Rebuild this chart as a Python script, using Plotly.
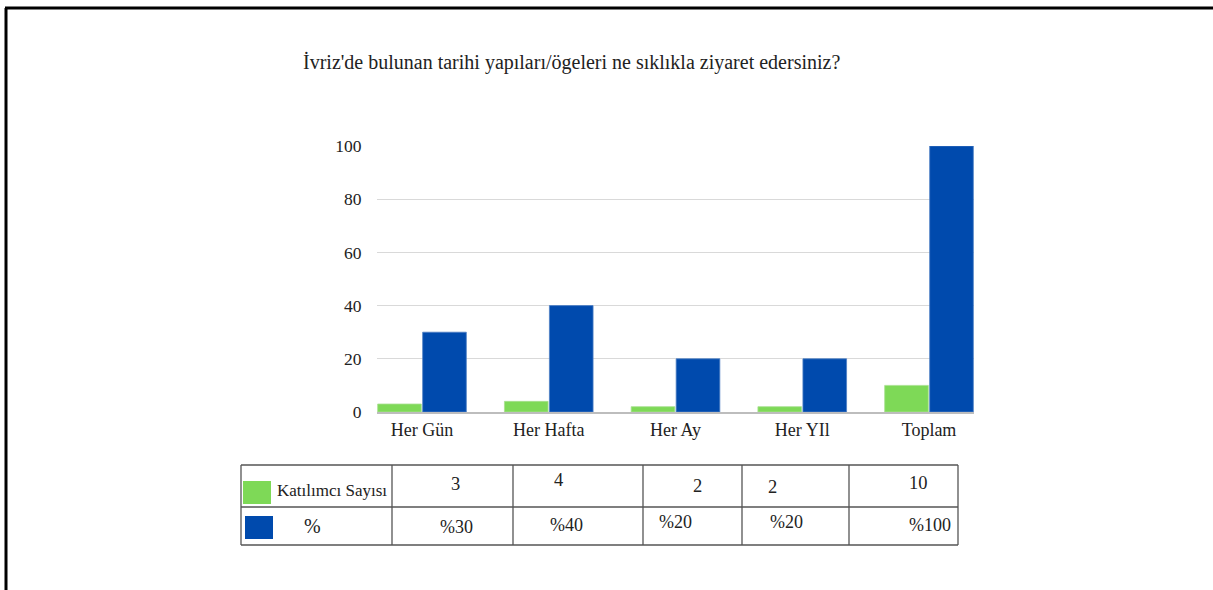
import plotly.graph_objects as go

W, H = 1213, 590

# chart data
categories = ["Her Gün", "Her Hafta", "Her Ay", "Her YIl", "Toplam"]
katilimci = [3, 4, 2, 2, 10]
yuzde = [30, 40, 20, 20, 100]
y_ticks = [0, 20, 40, 60, 80, 100]

# table text
row_names = ["Katılımcı Sayısı", "%"]
table_row1 = ["3", "4", "2", "2", "10"]
table_row2 = ["%30", "%40", "%20", "%20", "%100"]

GREEN = "#7ed957"
BLUE = "#004aad"
FONT = "Liberation Serif, Times New Roman, serif"


def px(p):
    return p / W


def py(p):
    return 1 - p / H


def note(text, x, y, size, anchor="center"):
    fig.add_annotation(text=text, x=px(x), y=py(y), xref="paper", yref="paper",
                       xanchor=anchor, yanchor="middle", showarrow=False,
                       font=dict(size=size))


fig = go.Figure()
fig.add_trace(go.Bar(x=categories, y=katilimci, name=row_names[0],
                     marker=dict(color=GREEN, line=dict(width=0.8, color="#a8e08f"))))
fig.add_trace(go.Bar(x=categories, y=yuzde, name=row_names[1],
                     marker=dict(color=BLUE, line=dict(width=0.8, color="#4d7fc4"))))

fig.update_layout(
    width=W, height=H,
    margin=dict(l=0, r=0, t=0, b=0, autoexpand=False),
    paper_bgcolor="white", plot_bgcolor="white",
    showlegend=False,
    barmode="group", bargap=0.29, bargroupgap=0.03,
    font=dict(family=FONT, size=18, color="#222"),
    xaxis=dict(domain=[px(377), px(974)], range=[-0.355, 4.355], automargin=False,
               showline=True, linecolor="#bdbdbd", linewidth=2,
               ticks="", showgrid=False, tickfont=dict(size=18)),
    yaxis=dict(domain=[py(412), py(146)], range=[0, 100], automargin=False,
               tickvals=y_ticks, showgrid=True, gridcolor="#d9d9d9",
               gridwidth=1, zeroline=False, showline=False,
               ticks="outside", ticklen=11, tickcolor="rgba(0,0,0,0)",
               tickfont=dict(size=17.5)),
)

# title
note("İvriz'de bulunan tarihi yapıları/ögeleri ne sıklıkla ziyaret edersiniz?", 571, 62, 20)

# outer frame (top and left)
fig.add_shape(type="line", xref="paper", yref="paper",
              x0=px(5), x1=1, y0=py(8), y1=py(8), line=dict(color="black", width=3))
fig.add_shape(type="line", xref="paper", yref="paper",
              x0=px(6), x1=px(6), y0=py(8), y1=0, line=dict(color="black", width=3))

# table grid
col_x = [241, 392, 513, 643, 742, 849, 958]
row_y = [465, 507, 545]
for yy in row_y:
    fig.add_shape(type="line", xref="paper", yref="paper",
                  x0=px(col_x[0]), x1=px(col_x[-1]), y0=py(yy), y1=py(yy),
                  line=dict(color="#555", width=1.3))
for xx in col_x:
    fig.add_shape(type="line", xref="paper", yref="paper",
                  x0=px(xx), x1=px(xx), y0=py(row_y[0]), y1=py(row_y[-1]),
                  line=dict(color="#555", width=1.3))

# legend swatches in table
fig.add_shape(type="rect", xref="paper", yref="paper",
              x0=px(243), x1=px(271), y0=py(481), y1=py(504),
              fillcolor=GREEN, line=dict(width=0))
fig.add_shape(type="rect", xref="paper", yref="paper",
              x0=px(245), x1=px(273), y0=py(516), y1=py(539),
              fillcolor=BLUE, line=dict(width=0))
note(row_names[0], 275, 490, 17, anchor="left")
note(row_names[1], 312, 526, 20)

r1_pos = [(455, 484), (558, 480), (697, 486), (773, 487), (918, 483)]
r2_pos = [(456, 527), (566, 525), (675, 522), (786, 522), (930, 525)]
for t, (xx, yy) in zip(table_row1, r1_pos):
    note(t, xx, yy, 18.5)
for t, (xx, yy) in zip(table_row2, r2_pos):
    note(t, xx, yy, 18)

# drop the page's default body margin so the figure sits at the window corner
fig.write_html("out.html", config={"displayModeBar": False},
               post_script="document.body.style.margin='0';")
